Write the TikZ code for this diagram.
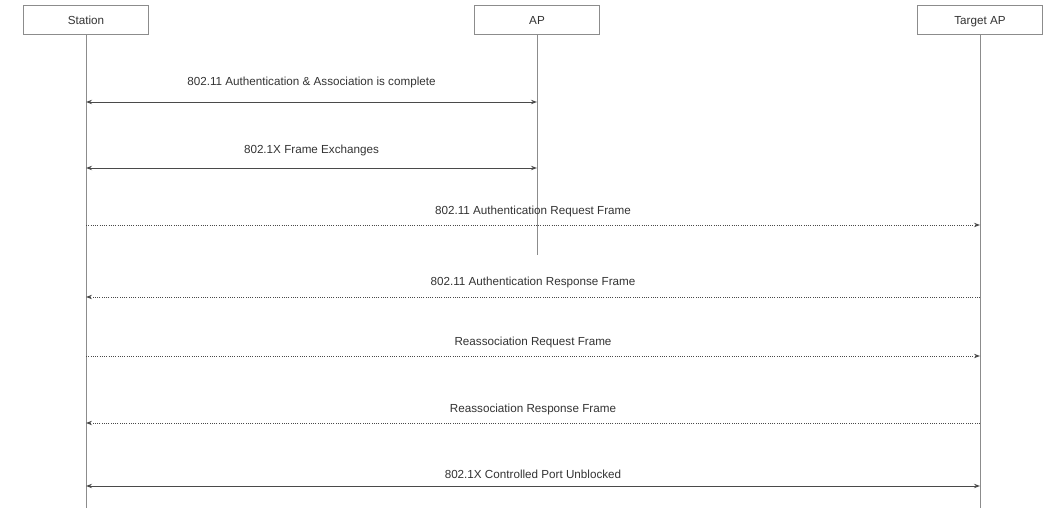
\documentclass[tikz,border=0pt]{standalone}
\usepackage{fontspec}
\setmainfont{Liberation Sans}
\usepackage{xcolor}
\usetikzlibrary{arrows.meta,positioning}
\definecolor{linegray}{HTML}{4A4A4A}
\definecolor{boxgray}{HTML}{8C8C8C}
\definecolor{textgray}{HTML}{333333}

\begin{document}
\begin{tikzpicture}[x=0.025cm,y=-0.025cm,>={Stealth[length=1.5mm,width=1.1mm]},
  every node/.style={font=\fontsize{8.3}{10}\selectfont,text=textgray},
  entity/.style={draw=boxgray,fill=white,line width=0.6pt,minimum width=3.125cm,minimum height=0.725cm,
    text height=1.6ex,text depth=0.4ex},
  lifeline/.style={draw=boxgray,line width=0.5pt},
  msg/.style={linegray,line width=0.7pt},
  dotmsg/.style={linegray,line width=0.6pt,densely dotted}]
  \useasboundingbox (0,0) rectangle (1050,510);
  \node[entity] (station) at (86,20) {Station};
  \node[entity] (ap) at (537,20) {AP};
  \node[entity] (target) at (980,20) {Target AP};
  \coordinate (stationend) at (86,508);
  \coordinate (apend) at (537,255);
  \coordinate (targetend) at (980,508);
  \draw[lifeline] (station.south) -- (stationend);
  \draw[lifeline] (ap.south) -- (apend);
  \draw[lifeline] (target.south) -- (targetend);
  % messages
  \coordinate (s1) at (86,102); \coordinate (a1) at (537,102);
  \draw[msg,<->] (s1) -- node[above=6pt] {802.11 Authentication \& Association is complete} (a1);
  \coordinate (s2) at (86,168); \coordinate (a2) at (537,168);
  \draw[msg,<->] (s2) -- node[above=5pt] {802.1X Frame Exchanges} (a2);
  \coordinate (s3) at (86,225); \coordinate (t3) at (980,225);
  \draw[dotmsg,->] (s3) -- node[above=2pt] {802.11 Authentication Request Frame} (t3);
  \coordinate (s4) at (86,297); \coordinate (t4) at (980,297);
  \draw[dotmsg,->] (t4) -- node[above=3pt] {802.11 Authentication Response Frame} (s4);
  \coordinate (s5) at (86,356); \coordinate (t5) at (980,356);
  \draw[dotmsg,->] (s5) -- node[above=2pt] {Reassociation Request Frame} (t5);
  \coordinate (s6) at (86,423); \coordinate (t6) at (980,423);
  \draw[dotmsg,->] (t6) -- node[above=2pt] {Reassociation Response Frame} (s6);
  \coordinate (s7) at (86,486); \coordinate (t7) at (980,486);
  \draw[msg,<->] (s7) -- node[above=1.5pt] {802.1X Controlled Port Unblocked} (t7);
\end{tikzpicture}
\end{document}
